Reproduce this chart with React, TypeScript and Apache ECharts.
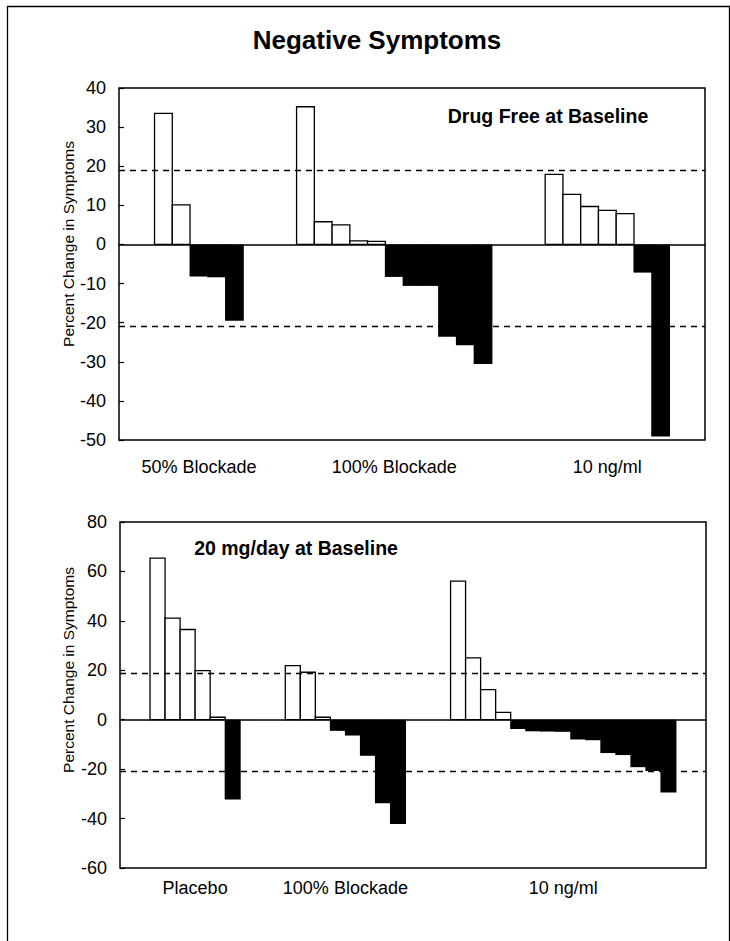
import React, { useEffect, useRef } from 'react';
import * as echarts from 'echarts';

// ---- Data (percent change in negative symptoms) ----
const topTitle = 'Drug Free at Baseline';
const topGroupLabels = ['50% Blockade', '100% Blockade', '10 ng/ml'];
const topGroup1 = [33.5, 10.1, -8.2, -8.4, -19.5];
const topGroup2 = [35.2, 5.8, 5.0, 0.9, 0.8, -8.3, -10.6, -10.6, -23.6, -25.8, -30.6];
const topGroup3 = [17.9, 12.8, 9.7, 8.7, 7.9, -7.2, -49.1];

const bottomTitle = '20 mg/day at Baseline';
const bottomGroupLabels = ['Placebo', '100% Blockade', '10 ng/ml'];
const bottomGroup1 = [65.4, 41.1, 36.5, 19.9, 1.0, -32.3];
const bottomGroup2 = [21.9, 19.2, 1.0, -4.5, -6.4, -14.6, -33.8, -42.2];
const bottomGroup3 = [56.1, 25.0, 12.2, 3.0, -3.8, -4.7, -4.8, -4.9, -8.0, -8.3, -13.5, -14.3, -19.2, -20.8, -29.5];

const topYAxis = { min: -50, max: 40, interval: 10 };
const bottomYAxis = { min: -60, max: 80, interval: 20 };
const thresholds = [19, -21];

const mainTitle = 'Negative Symptoms';
const yAxisName = 'Percent Change in Symptoms';

const FONT = '"Liberation Sans", Arial, Helvetica, sans-serif';

function layoutSlots(groups: number[][], lead: number, gap: number, trail: number) {
  const values: (number | null)[] = [];
  const centers: number[] = [];
  for (let i = 0; i < lead; i++) values.push(null);
  groups.forEach((g, gi) => {
    if (gi > 0) for (let i = 0; i < gap; i++) values.push(null);
    centers.push(values.length + g.length / 2);
    g.forEach((v) => values.push(v));
  });
  for (let i = 0; i < trail; i++) values.push(null);
  return { values, centers, count: values.length };
}

export default function App() {
  const ref = useRef<HTMLDivElement>(null);

  useEffect(() => {
    if (!ref.current) return;
    const chart = echarts.init(ref.current, undefined, { renderer: 'svg' });

    const top = layoutSlots([topGroup1, topGroup2, topGroup3], 2, 3, 2);
    const bottom = layoutSlots([bottomGroup1, bottomGroup2, bottomGroup3], 2, 3, 2);

    const grids = [
      { left: 119, top: 88, width: 586, height: 352 },
      { left: 120, top: 522, width: 586, height: 346 },
    ];

    const catAxis = (gridIndex: number, n: number) => ({
      type: 'category',
      gridIndex,
      data: Array.from({ length: n }, (_, i) => String(i)),
      boundaryGap: true,
      axisLine: { show: true, onZero: true, lineStyle: { color: '#000', width: 1.5 } },
      axisTick: { show: false },
      axisLabel: { show: false },
      splitLine: { show: false },
      z: 5,
    });

    const labelAxis = (gridIndex: number, n: number, centers: number[], labels: string[], margin: number) => ({
      type: 'value',
      gridIndex,
      position: 'bottom',
      min: 0,
      max: n,
      interval: 0.5,
      axisLine: { show: false, onZero: false },
      axisTick: { show: false },
      splitLine: { show: false },
      axisLabel: {
        show: true,
        margin,
        color: '#000',
        fontFamily: FONT,
        fontSize: 18,
        showMinLabel: true,
        showMaxLabel: true,
        formatter: (val: number) => {
          const idx = centers.findIndex((c) => Math.abs(c - val) < 1e-6);
          return idx >= 0 ? labels[idx] : '';
        },
      },
    });

    const valAxis = (gridIndex: number, cfg: { min: number; max: number; interval: number }) => ({
      type: 'value',
      gridIndex,
      min: cfg.min,
      max: cfg.max,
      interval: cfg.interval,
      axisLine: { show: false },
      axisTick: { show: true, inside: true, length: 5, lineStyle: { color: '#000', width: 1.2 } },
      axisLabel: { color: '#000', fontFamily: FONT, fontSize: 18, margin: 13 },
      splitLine: { show: false },
    });

    const renderBar = (params: any, api: any) => {
      const idx = api.value(0);
      const v = api.value(1);
      const base = api.coord([idx, 0]);
      const end = api.coord([idx, v]);
      const w = api.size([1, 0])[0];
      const y0 = Math.min(base[1], end[1]);
      const h = Math.abs(end[1] - base[1]);
      if (v < 0) {
        return {
          type: 'rect',
          shape: { x: base[0] - w / 2 - 0.5, y: y0, width: w + 1, height: h },
          style: { fill: '#000', stroke: null },
        };
      }
      return {
        type: 'rect',
        shape: { x: base[0] - w / 2, y: y0, width: w, height: h },
        style: { fill: '#fff', stroke: '#000', lineWidth: 1.3 },
      };
    };

    const barSeries = (xAxisIndex: number, yAxisIndex: number, values: (number | null)[]) => ({
      type: 'custom',
      xAxisIndex,
      yAxisIndex,
      renderItem: renderBar,
      encode: { x: 0, y: 1 },
      data: values
        .map((v, i) => (v == null ? null : [i, v]))
        .filter((d) => d !== null),
      markLine: {
        silent: true,
        symbol: 'none',
        label: { show: false },
        lineStyle: { type: [6, 5], color: '#000', width: 1.3 },
        data: thresholds.map((t) => ({ yAxis: t })),
      },
    });

    const option: any = {
      animation: false,
      backgroundColor: '#fff',
      grid: grids.map((g) => ({ ...g, show: true, borderColor: '#000', borderWidth: 1.5, backgroundColor: 'transparent' })),
      xAxis: [
        catAxis(0, top.count),
        catAxis(1, bottom.count),
        labelAxis(0, top.count, top.centers, topGroupLabels, 18),
        labelAxis(1, bottom.count, bottom.centers, bottomGroupLabels, 11),
      ],
      yAxis: [valAxis(0, topYAxis), valAxis(1, bottomYAxis)],
      series: [barSeries(0, 0, top.values), barSeries(1, 1, bottom.values)],
      graphic: [
        {
          type: 'rect',
          shape: { x: 7.5, y: 6.5, width: 722, height: 950 },
          style: { fill: 'none', stroke: '#000', lineWidth: 1.3 },
          silent: true,
        },
        {
          type: 'text',
          x: 377,
          y: 40,
          style: {
            text: mainTitle,
            font: `bold 26px ${FONT}`,
            fill: '#000',
            textAlign: 'center',
            textVerticalAlign: 'middle',
          },
        },
        {
          type: 'text',
          x: 548,
          y: 116,
          style: {
            text: topTitle,
            font: `bold 19.5px ${FONT}`,
            fill: '#000',
            textAlign: 'center',
            textVerticalAlign: 'middle',
          },
        },
        {
          type: 'text',
          x: 296,
          y: 548,
          style: {
            text: bottomTitle,
            font: `bold 19.5px ${FONT}`,
            fill: '#000',
            textAlign: 'center',
            textVerticalAlign: 'middle',
          },
        },
        {
          type: 'text',
          x: 68,
          y: 244,
          rotation: Math.PI / 2,
          style: {
            text: yAxisName,
            font: `15.5px ${FONT}`,
            fill: '#000',
            textAlign: 'center',
            textVerticalAlign: 'middle',
          },
        },
        {
          type: 'text',
          x: 68,
          y: 670,
          rotation: Math.PI / 2,
          style: {
            text: yAxisName,
            font: `15.5px ${FONT}`,
            fill: '#000',
            textAlign: 'center',
            textVerticalAlign: 'middle',
          },
        },
      ],
    };

    chart.setOption(option);
    return () => chart.dispose();
  }, []);

  return (
    <div
      ref={ref}
      style={{ position: 'absolute', left: 0, top: 0, width: 730, height: 941, background: '#fff' }}
    />
  );
}
